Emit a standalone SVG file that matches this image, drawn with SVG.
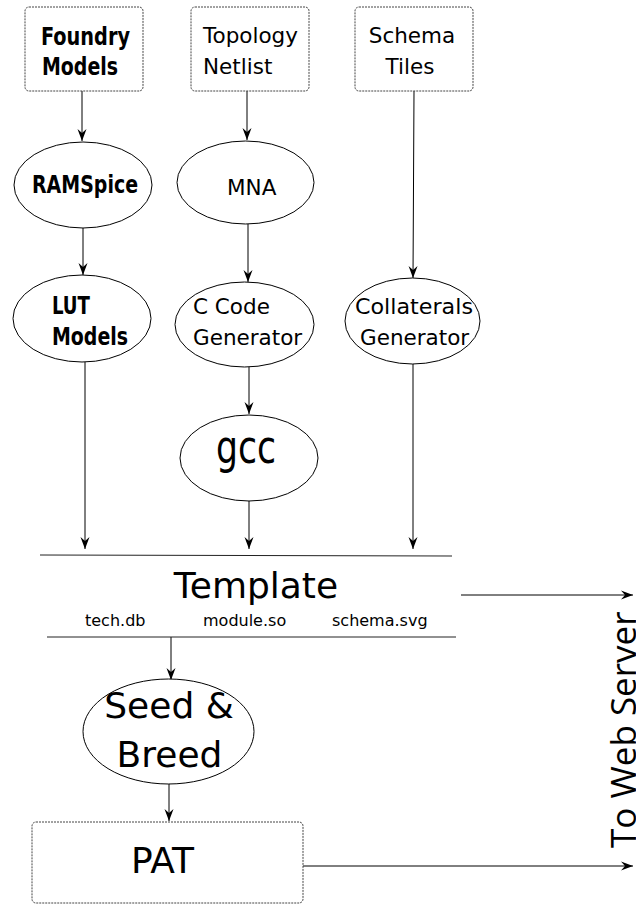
<svg xmlns="http://www.w3.org/2000/svg" width="636" height="905" viewBox="0 0 636 905">
  <style>
    .box { fill: #ffffff; stroke: #444444; stroke-width: 1; stroke-dasharray: 2 1; }
    .oval { fill: #ffffff; stroke: #000000; stroke-width: 1; }
    .t { font-family: "DejaVu Sans", Verdana, sans-serif; font-size: 21.5px; fill: #000000; }
    .b { font-family: "DejaVu Sans Condensed", "DejaVu Sans", sans-serif; font-weight: bold; font-size: 25px; fill: #000000; }
    .big { font-family: "DejaVu Sans", Verdana, sans-serif; font-size: 36px; fill: #000000; }
    .small { font-family: "DejaVu Sans", Verdana, sans-serif; font-size: 16px; fill: #000000; }
    .side { font-family: "Open Sans", "DejaVu Sans", sans-serif; font-size: 35px; fill: #000000; }
    .wire { stroke: #000000; stroke-width: 1; fill: none; }
    .arrow { marker-end: url(#head); }
    .rule { stroke: #222222; stroke-width: 1; }
  </style>
  <defs>
    <marker id="head" markerUnits="userSpaceOnUse" viewBox="-13 -5 14 10" markerWidth="14" markerHeight="10" refX="0" refY="0" orient="auto">
      <path d="M0,0 L-12,-4.5 L-8,0 L-12,4.5 Z" fill="#000000"/>
    </marker>
  </defs>

  <rect width="636" height="905" fill="#ffffff"/>

  <!-- connectors -->
  <g id="connectors">
    <line class="wire arrow" x1="82" y1="91" x2="82" y2="141"/>
    <line class="wire arrow" x1="247" y1="91" x2="247" y2="140"/>
    <line class="wire arrow" x1="414" y1="91" x2="413" y2="278"/>
    <line class="wire arrow" x1="83" y1="228" x2="83" y2="275"/>
    <line class="wire arrow" x1="248" y1="224" x2="248" y2="282"/>
    <line class="wire arrow" x1="249" y1="367" x2="249" y2="414"/>
    <line class="wire arrow" x1="85" y1="362" x2="85" y2="549"/>
    <line class="wire arrow" x1="249" y1="501" x2="249" y2="549"/>
    <line class="wire arrow" x1="413" y1="364" x2="413" y2="549"/>
    <line class="wire arrow" x1="171" y1="637" x2="171" y2="680"/>
    <line class="wire arrow" x1="169" y1="771" x2="169" y2="821"/>
    <line class="wire arrow" x1="461" y1="595" x2="633" y2="595"/>
    <line class="wire arrow" x1="303" y1="866" x2="633" y2="866"/>
  </g>

  <g id="foundry-models">
    <rect class="box" x="25" y="7" width="118" height="84" rx="4"/>
    <text class="b" x="41" y="45" textLength="89" lengthAdjust="spacingAndGlyphs">Foundry</text>
    <text class="b" x="42" y="75" textLength="76" lengthAdjust="spacingAndGlyphs">Models</text>
  </g>

  <g id="topology-netlist">
    <rect class="box" x="191" y="7" width="118" height="84" rx="4"/>
    <text class="t" x="203" y="43">Topology</text>
    <text class="t" x="203" y="74">Netlist</text>
  </g>

  <g id="schema-tiles">
    <rect class="box" x="355" y="7" width="118" height="84" rx="4"/>
    <text class="t" x="412" y="43" text-anchor="middle">Schema</text>
    <text class="t" x="410" y="74" text-anchor="middle">Tiles</text>
  </g>

  <g id="ramspice">
    <ellipse class="oval" cx="83" cy="185" rx="69" ry="43"/>
    <text class="b" x="32" y="193" textLength="106" lengthAdjust="spacingAndGlyphs">RAMSpice</text>
  </g>

  <g id="mna">
    <ellipse class="oval" cx="245.5" cy="182.5" rx="68.5" ry="41.5"/>
    <text class="t" x="227" y="195">MNA</text>
  </g>

  <g id="lut-models">
    <ellipse class="oval" cx="82" cy="318.5" rx="69" ry="43.5"/>
    <text class="b" x="52" y="314" textLength="38" lengthAdjust="spacingAndGlyphs">LUT</text>
    <text class="b" x="52" y="345" textLength="76" lengthAdjust="spacingAndGlyphs">Models</text>
  </g>

  <g id="c-code-generator">
    <ellipse class="oval" cx="244.5" cy="324.5" rx="69.5" ry="42.5"/>
    <text class="t" x="193" y="314">C Code</text>
    <text class="t" x="193" y="345">Generator</text>
  </g>

  <g id="collaterals-generator">
    <ellipse class="oval" cx="412.5" cy="321" rx="67.5" ry="43"/>
    <text class="t" x="355" y="314" textLength="118" lengthAdjust="spacingAndGlyphs">Collaterals</text>
    <text class="t" x="360" y="345">Generator</text>
  </g>

  <g id="gcc">
    <ellipse class="oval" cx="249" cy="458" rx="69" ry="43"/>
    <text x="216" y="463" font-family="DejaVu Sans Condensed, DejaVu Sans, sans-serif" font-size="46" textLength="60" lengthAdjust="spacingAndGlyphs">gcc</text>
  </g>

  <g id="template">
    <line class="rule" x1="40" y1="555" x2="452" y2="556"/>
    <line class="rule" x1="47" y1="637" x2="456" y2="637"/>
    <text class="big" x="256" y="598" text-anchor="middle" font-size="37">Template</text>
    <text class="small" x="85" y="626">tech.db</text>
    <text class="small" x="203" y="626">module.so</text>
    <text class="small" x="332" y="626">schema.svg</text>
  </g>

  <g id="seed-breed">
    <ellipse class="oval" cx="168.5" cy="731.5" rx="85.5" ry="52.5"/>
    <text class="big" x="169" y="718" text-anchor="middle">Seed &amp;</text>
    <text class="big" x="169.5" y="767" text-anchor="middle">Breed</text>
  </g>

  <g id="pat">
    <rect class="box" x="32" y="822" width="271" height="81" rx="4"/>
    <text class="big" x="162.5" y="873" text-anchor="middle" font-size="33">PAT</text>
  </g>

  <g id="web-server">
    <text class="side" transform="translate(636,848) rotate(-90)">To Web Server</text>
  </g>
</svg>
